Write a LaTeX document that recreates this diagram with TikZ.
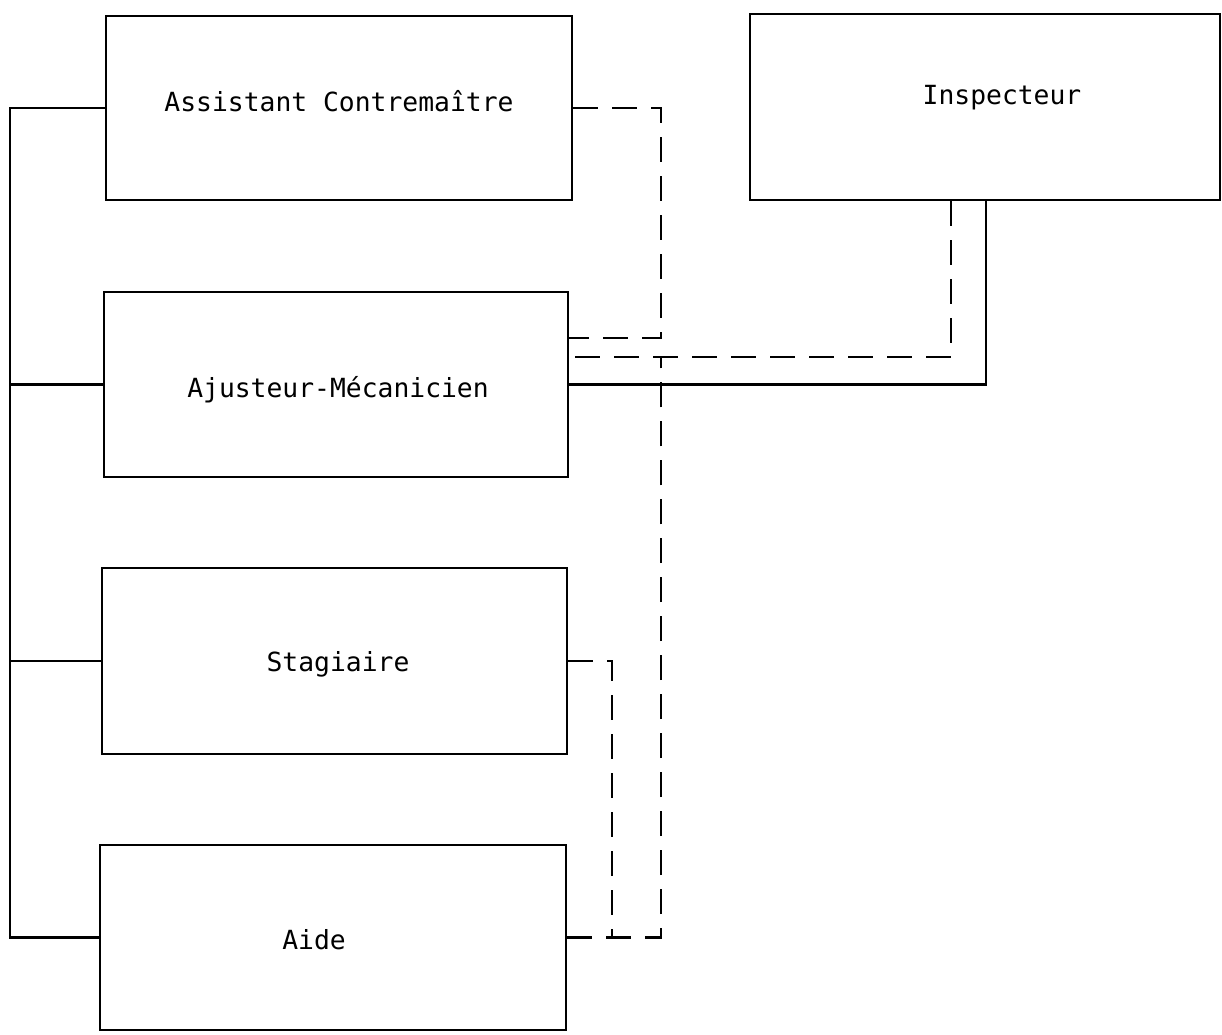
\documentclass[tikz,border=0pt]{standalone}
\usepackage{fontspec}
\setmonofont{DejaVu Sans Mono}
\begin{document}
\begin{tikzpicture}[x=0.02cm,y=-0.02cm,
  box/.style={draw,line width=1.6pt,inner sep=0pt,minimum width=#1},
  lbl/.style={font=\ttfamily\fontsize{15}{18}\selectfont,inner sep=0pt},
  conn/.style={line width=1.6pt},
  dsh/.style={line width=1.6pt,dash pattern=on 0.5cm off 0.28cm}]
\useasboundingbox (0,0) rectangle (1222,1034);
\node[box=9.32cm,minimum height=3.68cm] (ac) at (339,108) {};
\node[box=9.40cm,minimum height=3.72cm] (insp) at (985,107) {};
\node[box=9.28cm,minimum height=3.70cm] (aj) at (336,384.5) {};
\node[box=9.30cm,minimum height=3.72cm] (st) at (334.5,661) {};
\node[box=9.32cm,minimum height=3.70cm] (aide) at (333,937.5) {};
\node[lbl] (tac) at (339,101) {Assistant Contremaître};
\node[lbl] (tinsp) at (1002,98) {Inspecteur};
\node[lbl] (taj) at (338,390) {Ajusteur-Mécanicien};
\node[lbl] (tst) at (338,664) {Stagiaire};
\node[lbl] (taide) at (314,940) {Aide};
\coordinate (bus) at (10,0);
\coordinate (sj) at (986,0);
\coordinate (d1) at (661,0);
\coordinate (d2) at (951,0);
\coordinate (d3) at (612,0);
\coordinate (a1) at (568,338);
\coordinate (a2) at (568,357);
% solid connectors
\draw[conn] (ac.west) -- (ac.west -| bus) -- (aide.west -| bus) -- (aide.west);
\draw[conn] (aj.west) -- (aj.west -| bus);
\draw[conn] (st.west) -- (st.west -| bus);
\draw[conn] (aj.east) -- (aj.east -| sj) -- (sj |- insp.south);
% dashed connectors
\draw[dsh] (ac.east) -- (ac.east -| d1) -- (d1 |- a1) -- (a1);
\draw[dsh] (d2 |- insp.south) -- (a2 -| d2) -- (a2);
\draw[dsh] (aide.east) -- (aide.east -| d1) -- (d1 |- a2);
\draw[dsh] (st.east) -- (st.east -| d3) -- (d3 |- aide.east);
\end{tikzpicture}
\end{document}
